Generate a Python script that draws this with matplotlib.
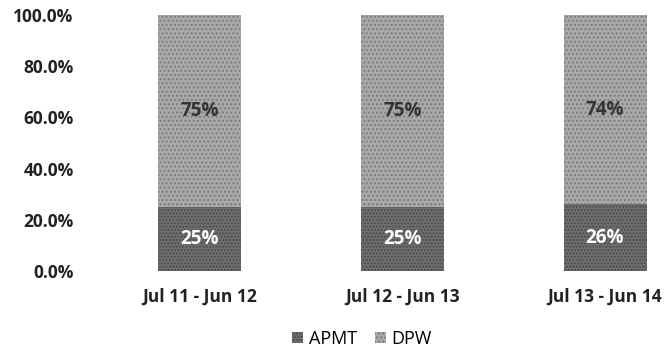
import matplotlib
matplotlib.use("Agg")
import matplotlib.pyplot as plt
import numpy as np

categories = ["Jul 11 - Jun 12", "Jul 12 - Jun 13", "Jul 13 - Jun 14"]
apmt = [25, 25, 26]
dpw = [75, 75, 74]
yticks = [0, 20, 40, 60, 80, 100]

plt.rcParams['font.family'] = ['Open Sans', 'DejaVu Sans']
plt.rcParams['hatch.linewidth'] = 1.0

fig = plt.figure(figsize=(6.7, 3.58), dpi=100)
W, H = 670, 358
left_px, right_px, top_px, bot_px = 100, 670, 15, 271
ax = fig.add_axes([left_px / W, (H - bot_px) / H, (right_px - left_px) / W, (bot_px - top_px) / H])

x = np.arange(len(categories))
spacing = 202.75
ax.set_xlim((left_px - 199.5) / spacing, (right_px - 199.5) / spacing)
ax.set_ylim(0, 100)
width = 83 / spacing

plt.rcParams['hatch.color'] = '#3a3a3a'
b1 = ax.bar(x, apmt, width, color='#6f6f6f', edgecolor='#4a4a4a', linewidth=0, hatch='.....', label='APMT')
b2 = ax.bar(x, dpw, width, bottom=apmt, color='#a9a9a9', edgecolor='#7c7c7c', linewidth=0, hatch='....', label='DPW')

for xi, a, d in zip(x, apmt, dpw):
    ax.text(xi, a / 2, f"{a}%", ha='center', va='center', fontsize=13.5, fontweight='bold', color='white')
    ax.text(xi, a + d / 2, f"{d}%", ha='center', va='center', fontsize=13.5, fontweight='bold', color='#333333')

ax.set_yticks(yticks)
ax.set_yticklabels([f"{v:.1f}%" for v in yticks], fontsize=12.5, fontweight='bold', color='#222222')
ax.set_xticks(x)
ax.set_xticklabels(categories, fontsize=12.5, fontweight='bold', color='#222222')
ax.tick_params(axis='y', length=0, pad=19)
ax.tick_params(axis='x', length=0, pad=12)
for s in ax.spines.values():
    s.set_visible(False)

fig.legend(handles=[b1, b2], labels=['APMT', 'DPW'], loc='center', bbox_to_anchor=(362 / W, 1 - 339 / H),
           ncol=2, frameon=False, fontsize=13, handlelength=0.6, handleheight=0.6, handletextpad=0.3,
           columnspacing=1.0)

fig.savefig("out.png", dpi=100, facecolor='white')
